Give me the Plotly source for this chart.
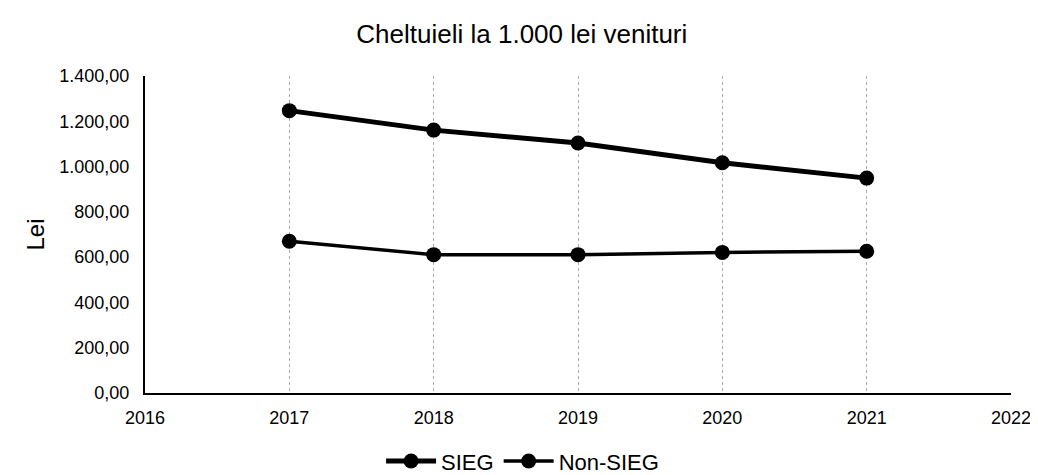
import plotly.graph_objects as go

years = [2017, 2018, 2019, 2020, 2021]
sieg = [1247, 1161, 1104, 1017, 949]
non_sieg = [670, 611, 611, 621, 626]

fig = go.Figure()
fig.add_trace(go.Scatter(x=years, y=sieg, name="SIEG", mode="lines+markers",
                         line=dict(color="black", width=5),
                         marker=dict(color="black", size=15)))
fig.add_trace(go.Scatter(x=years, y=non_sieg, name="Non-SIEG", mode="lines+markers",
                         line=dict(color="black", width=3.5),
                         marker=dict(color="black", size=15)))

fig.update_layout(
    width=1038, height=475,
    paper_bgcolor="white", plot_bgcolor="white",
    separators=",.",
    font=dict(family="Liberation Sans, Arial, sans-serif", color="black", size=18),
    title=dict(text="Cheltuieli la 1.000 lei venituri", x=0.495, xanchor="center",
               y=0.945, yanchor="middle", font=dict(size=26)),
    margin=dict(l=137, r=35, t=68, b=90, autoexpand=False),
    showlegend=True,
    legend=dict(orientation="h", x=0.436, xanchor="center", y=-0.215, yanchor="middle",
                font=dict(size=22), itemwidth=50),
    xaxis=dict(range=[2016, 2022], dtick=1, tick0=2016, showline=True, linecolor="black",
               linewidth=2, showgrid=True, gridcolor="#aaaaaa", griddash="dot", gridwidth=1,
               zeroline=False, ticks="", tickfont=dict(size=18), automargin=False,
               ticklabelstandoff=7),
    yaxis=dict(range=[0, 1400], dtick=200, tickformat=",.2f", showline=True,
               linecolor="black", linewidth=2, showgrid=False, zeroline=False,
               ticks="", tickfont=dict(size=18), automargin=False,
               ticklabelstandoff=10,
               title=dict(text="Lei", font=dict(size=24), standoff=8)),
)

fig.write_html("out.html")
